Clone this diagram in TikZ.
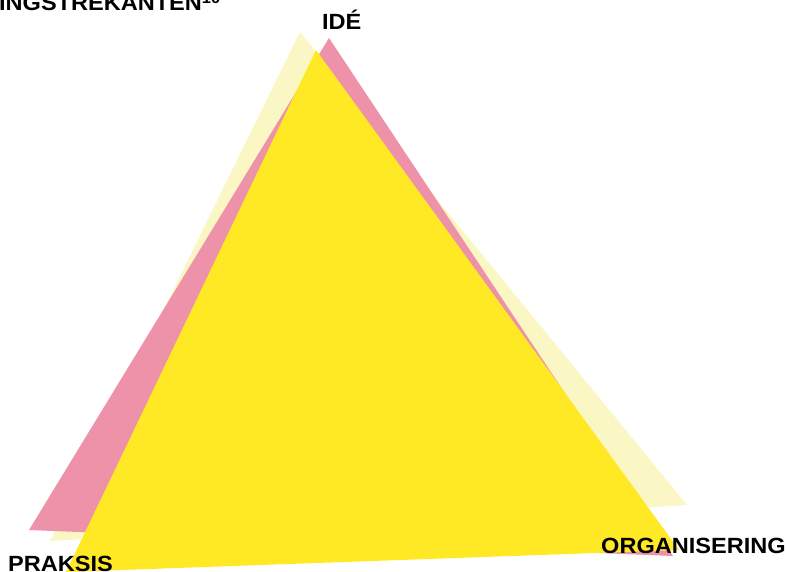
\documentclass[tikz,border=0pt]{standalone}
\usepackage{fontspec}
\setmainfont{Liberation Sans}
\newfontfamily\lblfont[FakeStretch=1.07]{Liberation Sans}
\definecolor{paleY}{RGB}{250,247,196}
\definecolor{pinkT}{RGB}{238,146,170}
\definecolor{yellT}{RGB}{255,233,36}
\begin{document}
\begin{tikzpicture}[x=1pt,y=-1pt,
  lbl/.style={font=\lblfont\bfseries\fontsize{22}{22}\selectfont, inner sep=0pt, anchor=base west, text=black}]
\useasboundingbox (0,0) rectangle (786,572);
% triangles
\fill[paleY] (300,32) -- (687,505) -- (50,541) -- cycle;
\fill[pinkT] (329,38) -- (673,556) -- (29,530) -- cycle;
\fill[yellT] (316,50) -- (679,550) -- (66,572) -- cycle;
% labels
\node[lbl] (top) at (-1,11) {INGSTREKANTEN\textsuperscript{10}};
\node[lbl] (ide) at (322,30) {IDÉ};
\node[lbl] (praksis) at (8,571) {PRAKSIS};
\node[lbl] (org) at (601,553) {ORGANISERING};
\end{tikzpicture}
\end{document}
